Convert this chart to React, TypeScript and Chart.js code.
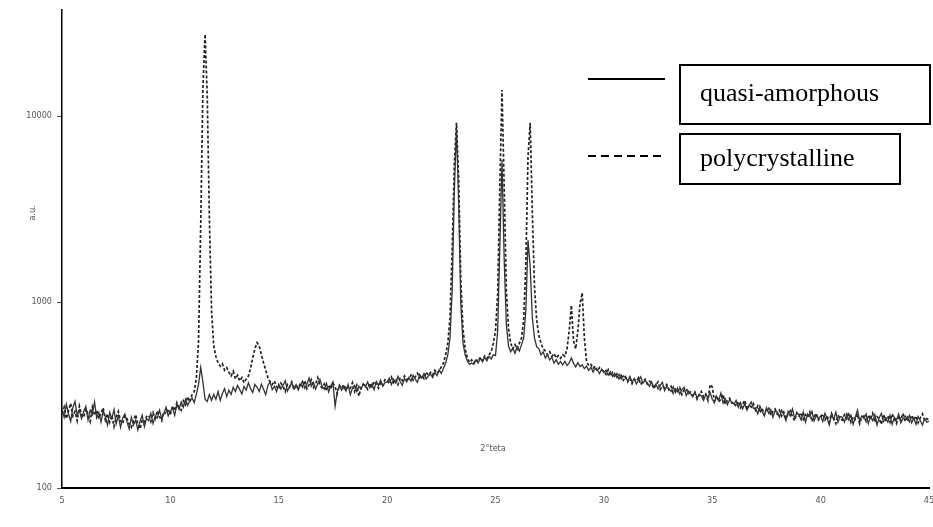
import React, { useEffect, useRef } from "react";
import { Chart, registerables } from "chart.js";

Chart.register(...registerables);

// 2θ grid: 5.0° .. 45.0° in 0.1° steps
const X_START = 5;
const X_STEP = 0.1;

const xTicks = [5, 10, 15, 20, 25, 30, 35, 40, 45];
const yTicks = [100, 1000, 10000];

const seriesNames = ["quasi-amorphous", "polycrystalline"];

// Intensity (a.u.), one value per 0.1°
const quasiAmorphous = [
  265, 240, 282, 250, 228, 270, 292, 245, 262, 236,
  258, 275, 232, 262, 248, 290, 238, 255, 226, 260,
  242, 218, 255, 236, 264, 222, 245, 212, 238, 250,
  226, 208, 240, 218, 232, 205, 228, 246, 214, 236,
  230, 252, 222, 244, 238, 262, 236, 250, 272, 244,
  258, 270, 246, 282, 264, 290, 272, 300, 278, 296,
  305, 288, 320, 362, 445, 372, 300, 292, 318, 296,
  318, 300, 330, 296, 322, 342, 310, 336, 318, 348,
  330, 356, 338, 320, 352, 336, 368, 342, 326, 360,
  348, 330, 362, 340, 318, 356, 372, 338, 352, 330,
  362, 340, 356, 378, 332, 350, 368, 342, 360, 336,
  358, 375, 344, 362, 390, 352, 370, 340, 364, 384,
  352, 340, 366, 328, 354, 372, 275, 330, 358, 336,
  348, 332, 360, 318, 344, 356, 330, 352, 340, 364,
  350, 372, 346, 362, 338, 374, 356, 380, 352, 368,
  372, 390, 360, 384, 366, 398, 374, 356, 388, 372,
  392, 376, 404, 384, 370, 408, 390, 412, 386, 400,
  410, 392, 418, 402, 432, 412, 440, 470, 520, 640,
  1150, 3900, 8700, 3400, 980, 600, 520, 480, 462, 470,
  462, 488, 470, 498, 476, 505, 482, 510, 494, 520,
  515, 700, 2000, 5800, 1700, 760, 580, 540, 566, 530,
  575, 545, 590, 640, 900, 2150, 1550, 820, 640, 575,
  560, 520, 540, 500, 520, 488, 505, 470, 490, 462,
  478, 458, 480, 455, 470, 500, 468, 448, 472, 450,
  460, 438, 452, 428, 446, 420, 440, 430, 412, 436,
  418, 430, 404, 422, 398, 414, 392, 408, 386, 400,
  392, 376, 398, 370, 388, 362, 380, 396, 366, 378,
  368, 352, 372, 348, 362, 340, 356, 370, 334, 352,
  342, 330, 350, 326, 344, 320, 338, 348, 314, 332,
  322, 310, 330, 304, 320, 312, 296, 318, 306, 326,
  300, 288, 310, 296, 324, 286, 302, 280, 298, 290,
  282, 296, 272, 288, 266, 284, 262, 278, 290, 268,
  268, 250, 276, 258, 244, 270, 252, 264, 240, 260,
  256, 240, 262, 248, 230, 258, 244, 266, 238, 252,
  248, 232, 256, 226, 250, 242, 258, 230, 246, 236,
  244, 228, 252, 236, 218, 248, 234, 256, 226, 242,
  240, 226, 250, 232, 246, 220, 240, 262, 230, 244,
  236, 250, 222, 242, 230, 248, 218, 238, 252, 228,
  238, 226, 246, 220, 240, 232, 250, 224, 236, 244,
  232, 246, 224, 238, 220, 242, 230, 218, 236, 226,
  228,
];

const polycrystalline = [
  250, 272, 236, 260, 285, 244, 258, 230, 276, 248,
  240, 266, 250, 228, 272, 246, 262, 236, 252, 270,
  232, 250, 226, 246, 214, 240, 258, 230, 222, 244,
  236, 220, 212, 230, 248, 220, 208, 232, 226, 242,
  246, 228, 254, 236, 260, 242, 230, 258, 250, 266,
  248, 276, 260, 288, 270, 262, 294, 280, 310, 290,
  318, 330, 390, 620, 2600, 14000, 27500, 13000, 2800, 900,
  580, 510, 470, 452, 466, 430, 444, 418, 400, 424,
  386, 404, 376, 392, 368, 386, 400, 440, 500, 560,
  605, 580, 520, 470, 430, 392, 372, 360, 376, 350,
  340, 366, 352, 330, 360, 348, 372, 338, 356, 344,
  366, 350, 378, 342, 360, 382, 348, 364, 392, 356,
  346, 362, 334, 358, 340, 366, 350, 322, 356, 342,
  360, 338, 352, 344, 368, 330, 356, 312, 348, 360,
  356, 340, 366, 350, 374, 360, 344, 370, 358, 382,
  380, 364, 394, 370, 386, 360, 392, 378, 400, 384,
  386, 404, 380, 396, 414, 392, 404, 388, 420, 404,
  418, 404, 430, 414, 426, 448, 470, 520, 600, 820,
  1900, 5500, 9200, 4600, 1300, 720, 560, 500, 474, 488,
  470, 492, 476, 505, 484, 512, 496, 520, 540, 600,
  700, 1100, 4200, 13800, 4200, 1150, 720, 600, 560, 590,
  560, 600, 640, 800, 1600, 6000, 9200, 3000, 1200, 800,
  660, 600, 560, 545, 520, 540, 510, 528, 500, 515,
  498, 520, 510, 560, 700, 960, 620, 560, 700, 980,
  1120, 640, 480, 455, 462, 440, 452, 426, 444, 430,
  424, 408, 432, 400, 418, 394, 410, 388, 404, 380,
  396, 372, 390, 364, 384, 376, 392, 360, 374, 384,
  362, 375, 366, 342, 358, 372, 338, 354, 346, 360,
  338, 352, 324, 340, 330, 346, 318, 336, 342, 322,
  328, 312, 324, 300, 316, 330, 308, 320, 296, 360,
  350, 292, 314, 290, 300, 318, 282, 296, 304, 286,
  288, 274, 292, 270, 282, 296, 264, 280, 272, 284,
  262, 276, 254, 268, 248, 262, 272, 246, 258, 266,
  250, 262, 244, 256, 236, 250, 260, 242, 230, 254,
  244, 254, 234, 248, 240, 256, 228, 242, 252, 232,
  240, 250, 232, 244, 226, 252, 238, 222, 246, 236,
  232, 248, 236, 254, 226, 242, 234, 250, 222, 240,
  244, 228, 246, 234, 252, 226, 242, 236, 220, 248,
  232, 244, 226, 250, 236, 222, 244, 232, 252, 228,
  240, 228, 246, 232, 244, 224, 238, 250, 230, 236,
  232,
];

const Y_MIN = 100;
const Y_MAX = 37150;
const X_MIN = 5;
const X_MAX = 45;

const TICK_FONT = "'Liberation Sans Narrow', 'DejaVu Sans Condensed', 'Liberation Sans', sans-serif";
const SERIF = "'Liberation Serif', 'DejaVu Serif', serif";

const toPoints = (vals: number[]) =>
  vals.map((y, i) => ({ x: +(X_START + i * X_STEP).toFixed(2), y }));

const annotationPlugin = {
  id: "annotations",
  afterDraw(chart: any) {
    const ctx = chart.ctx as CanvasRenderingContext2D;
    ctx.save();
    // axis labels
    ctx.fillStyle = "#555";
    ctx.font = `9px ${TICK_FONT}`;
    ctx.textAlign = "center";
    ctx.textBaseline = "middle";
    ctx.fillText("2°teta", 493, 449);
    ctx.save();
    ctx.translate(33, 213);
    ctx.rotate(-Math.PI / 2);
    ctx.fillText("a.u.", 0, 0);
    ctx.restore();

    // legend
    ctx.strokeStyle = "#000";
    ctx.lineWidth = 2;
    ctx.beginPath();
    ctx.moveTo(588, 79);
    ctx.lineTo(665, 79);
    ctx.stroke();
    ctx.setLineDash([8, 5]);
    ctx.beginPath();
    ctx.moveTo(588, 156);
    ctx.lineTo(665, 156);
    ctx.stroke();
    ctx.setLineDash([]);
    ctx.strokeRect(680, 65, 250, 59);
    ctx.strokeRect(680, 134, 220, 50);
    ctx.fillStyle = "#000";
    ctx.font = `26px ${SERIF}`;
    ctx.textAlign = "left";
    ctx.textBaseline = "alphabetic";
    ctx.fillText(seriesNames[0], 700, 101);
    ctx.fillText(seriesNames[1], 700, 166);
    ctx.restore();
  },
};

export default function App() {
  const ref = useRef<HTMLCanvasElement | null>(null);

  useEffect(() => {
    document.body.style.margin = "0";
    const canvas = ref.current;
    if (!canvas) return;
    const chart = new Chart(canvas, {
      type: "line",
      data: {
        datasets: [
          {
            label: seriesNames[0],
            data: toPoints(quasiAmorphous),
            borderColor: "#333333",
            borderWidth: 1.3,
            pointRadius: 0,
            tension: 0,
            fill: false,
          },
          {
            label: seriesNames[1],
            data: toPoints(polycrystalline),
            borderColor: "#222222",
            borderWidth: 1.7,
            borderDash: [3, 2],
            pointRadius: 0,
            tension: 0,
            fill: false,
          },
        ],
      },
      options: {
        animation: false,
        responsive: false,
        devicePixelRatio: 1,
        layout: { padding: { top: 10, right: 4, left: 0, bottom: 0 } },
        plugins: {
          legend: { display: false },
          tooltip: { enabled: false },
        },
        scales: {
          x: {
            type: "linear",
            min: X_MIN,
            max: X_MAX,
            afterBuildTicks: (scale: any) => {
              scale.ticks = xTicks.map((v) => ({ value: v }));
            },
            afterFit: (scale: any) => {
              scale.height = 39;
              scale.paddingLeft = 0;
              scale.paddingRight = 0;
            },
            ticks: {
              color: "#555",
              font: { family: TICK_FONT, size: 9 },
              padding: 7,
              maxRotation: 0,
              autoSkip: false,
              callback: (v: any) => String(v),
            },
            grid: { display: true, drawOnChartArea: false, drawTicks: false },
            border: { display: true, color: "#000", width: 2 },
          },
          y: {
            type: "logarithmic",
            min: Y_MIN,
            max: Y_MAX,
            afterBuildTicks: (scale: any) => {
              scale.ticks = yTicks.map((v) => ({ value: v }));
            },
            afterFit: (scale: any) => {
              scale.width = 62;
              scale.paddingTop = 0;
              scale.paddingBottom = 0;
            },
            ticks: {
              color: "#555",
              font: { family: TICK_FONT, size: 9 },
              padding: 5,
              autoSkip: false,
              callback: (v: any) => String(v),
            },
            grid: {
              display: true,
              drawOnChartArea: false,
              drawTicks: true,
              tickLength: 5,
              color: "#555",
            },
            border: { display: true, color: "#000", width: 1.5 },
          },
        },
      },
      plugins: [annotationPlugin],
    });
    return () => chart.destroy();
  }, []);

  return (
    <div style={{ position: "fixed", left: 0, top: 0, width: 933, height: 527, background: "#fff" }}>
      <canvas ref={ref} width={933} height={527} style={{ display: "block" }} />
    </div>
  );
}
